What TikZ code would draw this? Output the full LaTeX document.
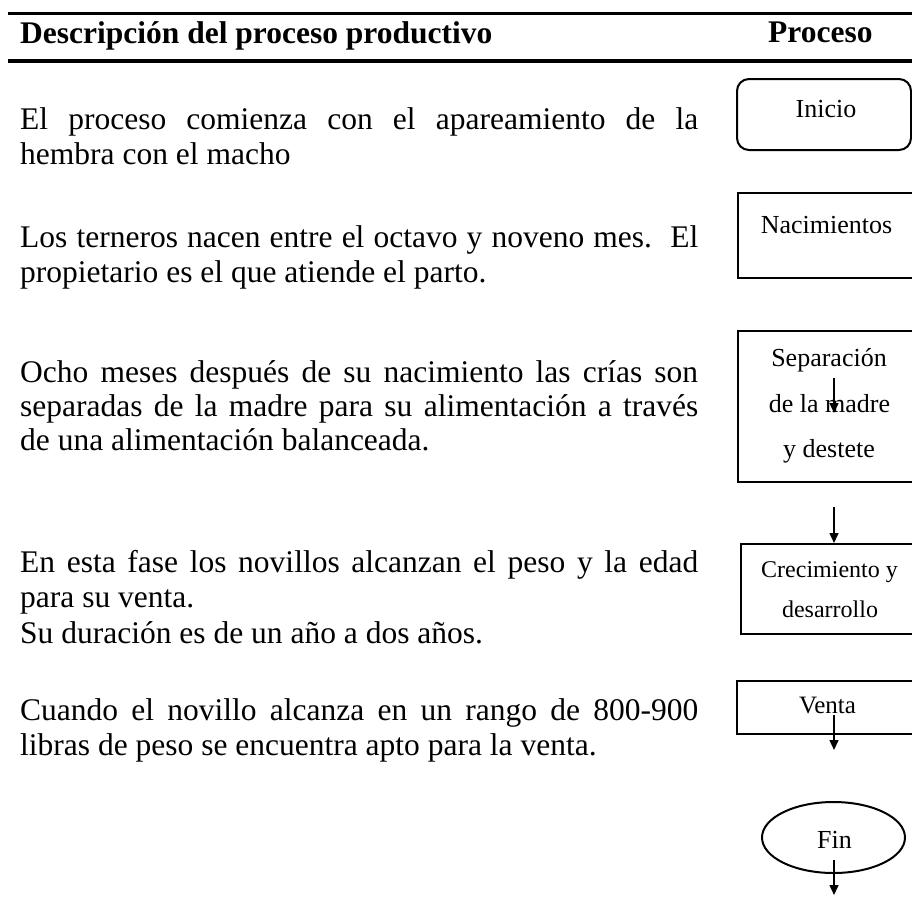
\documentclass[tikz,border=0pt]{standalone}
\usepackage{fontspec}
\setmainfont{Liberation Serif}
\usetikzlibrary{arrows.meta,shapes.geometric}
\newcommand{\jline}[1]{\makebox[678pt][s]{#1}}
\tikzset{
  body/.style={anchor=base west, inner sep=0pt, font=\fontsize{31.5}{35}\selectfont},
  headtxt/.style={anchor=base west, inner sep=0pt, font=\bfseries\fontsize{31.5}{35}\selectfont},
  rulerline/.style={line width=3pt},
  stepbox/.style={draw, line width=2pt, anchor=north west, inner sep=0pt},
  boxtxt/.style={anchor=base, inner sep=0pt, font=\fontsize{26}{30}\selectfont},
  boxtxtsmall/.style={anchor=base, inner sep=0pt, font=\fontsize{24}{28}\selectfont},
  arr/.style={-{Triangle[length=10pt,width=9pt]}, line width=1.4pt}
}
\begin{document}
\begin{tikzpicture}[x=1pt,y=-1pt]
\useasboundingbox (0,0) rectangle (912,905);
\clip (0,0) rectangle (912,905);
\fill[white] (0,0) rectangle (912,905);

% header rules
\coordinate (r1a) at (8,13);
\coordinate (r1b) at (914,13);
\coordinate (r2a) at (8,61);
\coordinate (r2b) at (914,61);
\draw[rulerline] (r1a) -- (r1b);
\draw[rulerline, line width=3.5pt] (r2a) -- (r2b);
\node[headtxt] (h1) at (20,43) {Descripción del proceso productivo};
\node[headtxt] (h2) at (768,42) {Proceso};

% left description
\node[body] (p1a) at (20,129) {\jline{El proceso comienza con el apareamiento de la}};
\node[body] (p1b) at (20,164) {hembra con el macho};

\node[body] (p2a) at (20,247) {\jline{Los terneros nacen entre el octavo y noveno mes.~~El}};
\node[body] (p2b) at (20,282) {propietario es el que atiende el parto.};

\node[body] (p3a) at (20,382) {\jline{Ocho meses después de su nacimiento las crías son}};
\node[body] (p3b) at (20,416) {\jline{separadas de la madre para su alimentación a través}};
\node[body] (p3c) at (20,450) {de una alimentación balanceada.};

\node[body] (p4a) at (20,572) {\jline{En esta fase los novillos alcanzan el peso y la edad}};
\node[body] (p4b) at (20,607) {para su venta.};
\node[body] (p4c) at (20,643) {Su duración es de un año a dos años.};

\node[body] (p5a) at (20,720) {\jline{Cuando el novillo alcanza en un rango de 800-900}};
\node[body] (p5b) at (20,755) {libras de peso se encuentra apto para la venta.};

% process column boxes
\node[stepbox, rounded corners=12pt, minimum width=174pt, minimum height=71pt] (ini) at (736,78) {};
\node[boxtxt] (tini) at (826,117) {Inicio};

\node[stepbox, minimum width=185pt, minimum height=85pt] (nac) at (737,192) {};
\node[boxtxt] (tnac) at (826.5,233) {Nacimientos};

\node[stepbox, minimum width=185pt, minimum height=151pt] (sep) at (737,330) {};
\node[boxtxt] (tsep1) at (829,366) {Separación};
\node[boxtxt] (tsep2) at (829.5,412) {de la madre};
\node[boxtxt] (tsep3) at (829,457) {y destete};

\node[stepbox, minimum width=185pt, minimum height=90pt] (cre) at (740,543) {};
\node[boxtxtsmall] (tcre1) at (829.5,577) {Crecimiento y};
\node[boxtxtsmall] (tcre2) at (830,617) {desarrollo};

\node[stepbox, minimum width=185pt, minimum height=53pt] (ven) at (736,680) {};
\node[boxtxt, font=\fontsize{25}{29}\selectfont] (tven) at (827.5,713) {Venta};

\node[draw, ellipse, line width=2pt, inner sep=0pt, minimum width=143pt, minimum height=71pt] (fin) at (833.5,837.5) {};
\node[boxtxt] (tfin) at (834.5,848) {Fin};

% arrows
\coordinate (a1s) at (834,378);
\coordinate (a1e) at (834,413);
\coordinate (a2s) at (834,507);
\coordinate (a3s) at (834,715);
\coordinate (a3e) at (834,750);
\coordinate (a4s) at (834,860);
\coordinate (a4e) at (834,895);
\draw[arr] (a1s) -- (a1e);
\draw[arr] (a2s) -- (a2s |- cre.north);
\draw[arr] (a3s) -- (a3e);
\draw[arr] (a4s) -- (a4e);
\end{tikzpicture}
\end{document}
